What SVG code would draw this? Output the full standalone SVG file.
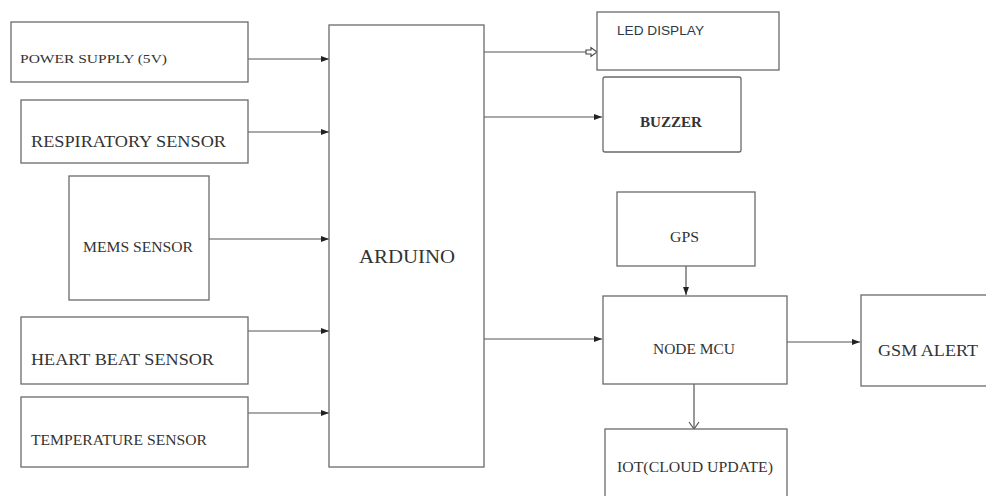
<svg xmlns="http://www.w3.org/2000/svg" width="986" height="496" viewBox="0 0 986 496">
<defs>
<style>
.box{fill:#fff;stroke:#6a6a6a;stroke-width:1.3}
text.t{fill:#333;font-family:'Liberation Serif','DejaVu Serif',serif}
.c{stroke:#555;stroke-width:1.2;fill:none}
</style>
<marker id="ah" markerWidth="10" markerHeight="8" refX="9" refY="4" orient="auto" markerUnits="userSpaceOnUse">
<path d="M1,1 L9,4 L1,7 Z" fill="#222"/>
</marker>
<marker id="open" markerWidth="14" markerHeight="12" refX="12" refY="6" orient="auto" markerUnits="userSpaceOnUse">
<path d="M1,4 L6,4 L6,1.5 L12,6 L6,10.5 L6,8 L1,8 Z" fill="#fff" stroke="#444" stroke-width="1.1"/>
</marker>
<marker id="vee" markerWidth="12" markerHeight="12" refX="10" refY="6" orient="auto" markerUnits="userSpaceOnUse">
<path d="M3,1 L10,6 L3,11" fill="none" stroke="#555" stroke-width="1.2"/>
</marker>
</defs>
<rect width="986" height="496" fill="#fff"/>
<g id="connectors">
<line class="c" x1="248" y1="59" x2="329" y2="59" marker-end="url(#ah)"/>
<line class="c" x1="248" y1="132" x2="329" y2="132" marker-end="url(#ah)"/>
<line class="c" x1="209" y1="239" x2="329" y2="239" marker-end="url(#ah)"/>
<line class="c" x1="248" y1="331" x2="329" y2="331" marker-end="url(#ah)"/>
<line class="c" x1="248" y1="413" x2="329" y2="413" marker-end="url(#ah)"/>
<line class="c" x1="484" y1="52" x2="597" y2="52" marker-end="url(#open)"/>
<line class="c" x1="482" y1="117" x2="602" y2="117" marker-end="url(#ah)"/>
<line class="c" x1="484" y1="339" x2="602" y2="339" marker-end="url(#ah)"/>
<line class="c" x1="686" y1="266" x2="686" y2="295" marker-end="url(#ah)"/>
<line class="c" x1="787" y1="342" x2="860" y2="342" marker-end="url(#ah)"/>
<line class="c" x1="694" y1="384" x2="694" y2="429" marker-end="url(#vee)"/>
</g>
<g id="power">
<rect class="box" x="11" y="22" width="237" height="60"/>
<text class="t" x="20" y="63" font-size="13" textLength="147" lengthAdjust="spacingAndGlyphs">POWER SUPPLY (5V)</text>
</g>
<g id="respiratory">
<rect class="box" x="21" y="100" width="227" height="63"/>
<text class="t" x="31" y="147" font-size="17" textLength="195" lengthAdjust="spacingAndGlyphs">RESPIRATORY SENSOR</text>
</g>
<g id="mems">
<rect class="box" x="69" y="176" width="140" height="124"/>
<text class="t" x="83" y="252" font-size="15" textLength="110" lengthAdjust="spacingAndGlyphs">MEMS SENSOR</text>
</g>
<g id="heartbeat">
<rect class="box" x="21" y="317" width="227" height="67"/>
<text class="t" x="31" y="365" font-size="17" textLength="183" lengthAdjust="spacingAndGlyphs">HEART BEAT SENSOR</text>
</g>
<g id="temperature">
<rect class="box" x="21" y="397" width="227" height="70"/>
<text class="t" x="31" y="445" font-size="15" textLength="176" lengthAdjust="spacingAndGlyphs">TEMPERATURE SENSOR</text>
</g>
<g id="arduino">
<rect class="box" x="329" y="25" width="155" height="442"/>
<text class="t" x="359" y="263" font-size="19" textLength="96" lengthAdjust="spacingAndGlyphs">ARDUINO</text>
</g>
<g id="led">
<rect class="box" x="597" y="12" width="182" height="58"/>
<text x="617" y="35" font-size="13" style="font-family:'Liberation Sans','Open Sans',sans-serif" fill="#2f3848" textLength="87" lengthAdjust="spacingAndGlyphs">LED DISPLAY</text>
</g>
<g id="buzzer">
<rect class="box" x="603" y="77" width="138" height="75" rx="2"/>
<text class="t" x="640" y="127" font-size="15" font-weight="bold" fill="#444" textLength="62" lengthAdjust="spacingAndGlyphs">BUZZER</text>
</g>
<g id="gps">
<rect class="box" x="617" y="192" width="138" height="74"/>
<text class="t" x="670" y="242" font-size="15" textLength="29" lengthAdjust="spacingAndGlyphs">GPS</text>
</g>
<g id="nodemcu">
<rect class="box" x="603" y="296" width="184" height="88"/>
<text class="t" x="653" y="354" font-size="15" textLength="82" lengthAdjust="spacingAndGlyphs">NODE MCU</text>
</g>
<g id="gsm">
<rect class="box" x="861" y="295" width="140" height="91"/>
<text class="t" x="878" y="356" font-size="17" textLength="100" lengthAdjust="spacingAndGlyphs">GSM ALERT</text>
</g>
<g id="iot">
<rect class="box" x="605" y="429" width="182" height="80"/>
<text class="t" x="617" y="472" font-size="14.5" textLength="156" lengthAdjust="spacingAndGlyphs">IOT(CLOUD UPDATE)</text>
</g>
</svg>
